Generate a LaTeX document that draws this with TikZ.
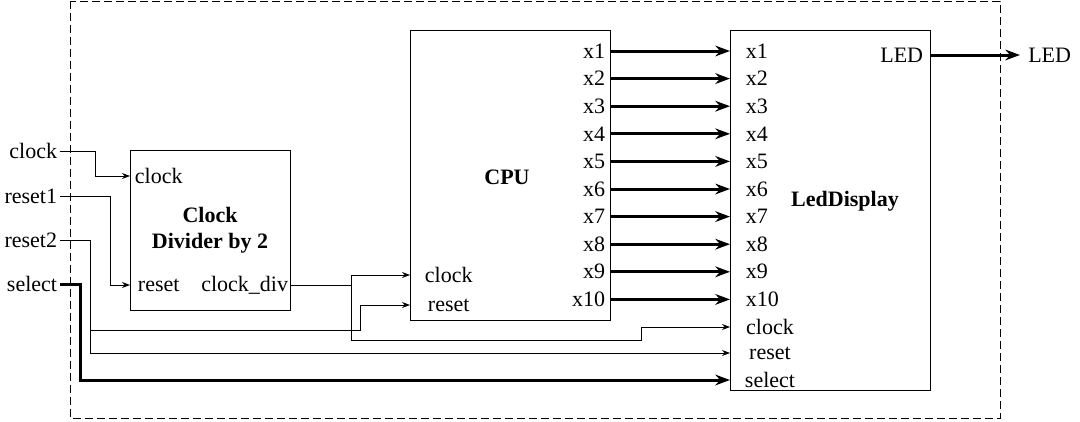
\documentclass[tikz,border=0pt]{standalone}
\usepackage{fontspec}
\setmainfont{Liberation Serif}
\usetikzlibrary{arrows.meta}

\tikzset{
  blk/.style={draw,line width=0.75pt,anchor=north west,inner sep=0pt},
  title/.style={font=\fontsize{16.5}{19.5}\selectfont\bfseries,align=center},
  wire/.style={line width=0.75pt,-{Stealth[length=6pt,width=4.5pt]}},
  bus/.style={line width=2.25pt,-{Stealth[length=11pt,width=8pt]}},
  net/.style={line width=0.75pt}
}

\begin{document}
\begin{tikzpicture}[x=0.75pt,y=-0.75pt,font=\fontsize{16.5}{19.5}\selectfont,inner sep=2pt]
\useasboundingbox (0,0) rectangle (1080,421);
\draw[line width=0.75pt,dash pattern=on 6pt off 3pt] (70,1) rectangle (1000,418);

% blocks
\node[blk,minimum width=120pt,minimum height=120pt] (div) at (130,150) {};
\node[blk,minimum width=150pt,minimum height=217.5pt] (cpu) at (410,30) {};
\node[blk,minimum width=150pt,minimum height=270pt] (led) at (730,30) {};

\node[title] (divname) at (210,230) {Clock\\Divider by 2};
\node[title] (cpuname) at (507,177) {CPU};
\node[title] (ledname) at (845,201) {LedDisplay};

% inputs
\node[anchor=east] (inclk) at (60,151) {clock};
\node[anchor=east] (inrst1) at (60,196) {reset1};
\node[anchor=east] (inrst2) at (60,240) {reset2};
\node[anchor=east] (insel) at (60,284) {select};

% pins
\node[anchor=west] (divclk) at (132,176) {clock};
\node[anchor=west] (divrst) at (135,285) {reset};
\node[anchor=east] (divout) at (291,285) {clock\_div};
\node[anchor=west] (cpuclk) at (422,275) {clock};
\node[anchor=west] (cpurst) at (425,305) {reset};
\foreach \i in {1,...,10} {
  \node[anchor=east] (cpux\i) at (608,{51+(\i-1)*27.6}) {x\i};
  \node[anchor=west] (ledx\i) at (743,{51+(\i-1)*27.6}) {x\i};
}
\node (ledclk) at (770,327) {clock};
\node (ledrst) at (770,353) {reset};
\node (ledsel) at (770,380) {select};
\node[anchor=east] (ledout) at (926,55) {LED};
\node[anchor=west,inner sep=6pt] (ledext) at (1020,55) {LED};

% wires
\draw[wire] (inclk.east) -- ++(35,0) |- (div.west |- divclk);
\draw[wire] (inrst1.east) -- ++(50,0) |- (div.west |- divrst);
\draw[net] (div.east |- divout) -- ++(60,0) coordinate (split);
\draw[wire] (split) |- (cpu.west |- cpuclk);
\draw[wire] (split) -- ++(0,55) -- ++(290,0) |- (led.west |- ledclk);
\draw[net] (inrst2.east) -- ++(30,0) -- ++(0,90) coordinate (r2);
\draw[wire] (r2) -- ++(0,23) -- (led.west |- ledrst);
\draw[wire] (r2) -- ++(270,0) |- (cpu.west |- cpurst);
\draw[bus] (insel.east) -- ++(20,0) |- (led.west |- ledsel);
\foreach \i in {1,...,10}
  \draw[bus] (cpu.east |- cpux\i) -- (led.west |- ledx\i);
\draw[bus] (led.east |- ledout) -- (ledext.west);
\end{tikzpicture}
\end{document}
